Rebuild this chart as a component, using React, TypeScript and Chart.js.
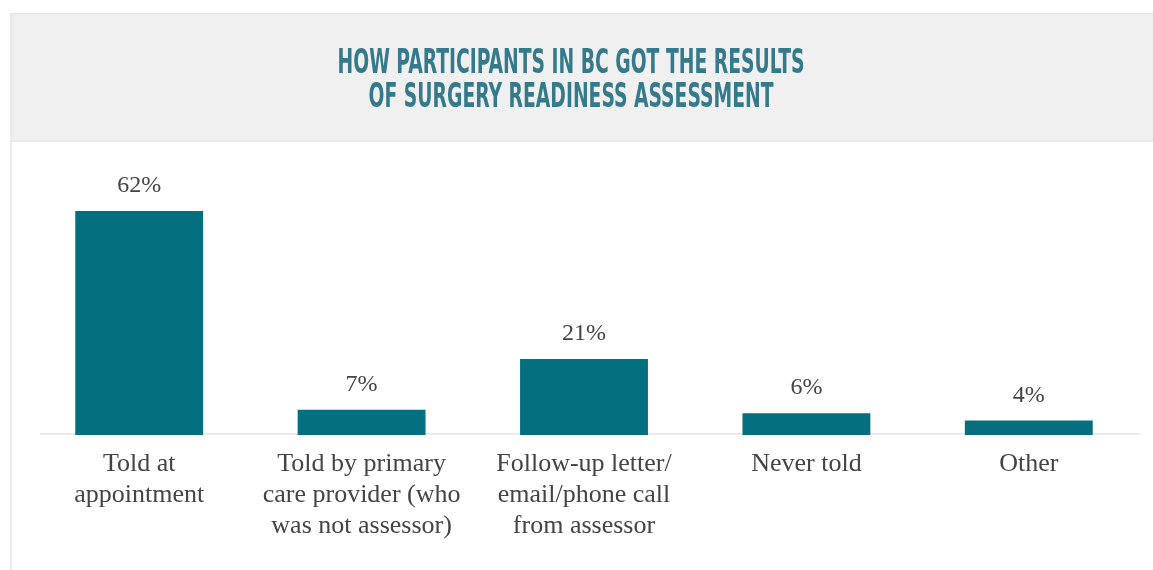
import React, { useEffect, useRef } from 'react';
import { Chart, registerables } from 'chart.js';

Chart.register(...registerables);

const categories: string[][] = [
  ['Told at', 'appointment'],
  ['Told by primary', 'care provider (who', 'was not assessor)'],
  ['Follow-up letter/', 'email/phone call', 'from assessor'],
  ['Never told'],
  ['Other'],
];
const values: number[] = [62, 7, 21, 6, 4];
const valueLabels: string[] = ['62%', '7%', '21%', '6%', '4%'];
const titleLines: string[] = [
  'HOW PARTICIPANTS IN BC GOT THE RESULTS',
  'OF SURGERY READINESS ASSESSMENT',
];

const BAR_COLOR = '#036f7f';
const TEXT_COLOR = '#444444';
const TITLE_COLOR = '#357a8c';
const SERIF = "'Liberation Serif', 'DejaVu Serif', serif";
const CONDENSED = "'Liberation Sans Narrow', 'DejaVu Sans Condensed', Roboto, sans-serif";

const framePlugin = {
  id: 'frame',
  beforeDraw(chart: any) {
    const ctx = chart.ctx as CanvasRenderingContext2D;
    const W = chart.width;
    const H = chart.height;
    ctx.save();
    ctx.fillStyle = '#ffffff';
    ctx.fillRect(0, 0, W, H);
    // header box
    ctx.fillStyle = '#f0f0f0';
    ctx.fillRect(10, 13, W - 10, 129);
    ctx.fillStyle = '#e6e6e6';
    ctx.fillRect(10, 13, W - 10, 1.5);
    ctx.fillStyle = '#e9e9e9';
    ctx.fillRect(10, 140, W - 10, 2);
    ctx.fillRect(10, 13, 2, H - 13);
    // title
    ctx.fillStyle = TITLE_COLOR;
    ctx.font = `bold 33px ${CONDENSED}`;
    ctx.textAlign = 'center';
    ctx.textBaseline = 'alphabetic';
    const w0 = ctx.measureText(titleLines[0]).width;
    const sx = 467 / w0;
    const cx = 571;
    const baselines = [73, 107];
    titleLines.forEach((line, i) => {
      ctx.save();
      ctx.translate(cx, baselines[i]);
      ctx.scale(sx, 1);
      ctx.fillText(line, 0, 0);
      ctx.restore();
    });
    ctx.restore();
  },
  beforeDatasetsDraw(chart: any) {
    const ctx = chart.ctx as CanvasRenderingContext2D;
    const area = chart.chartArea;
    ctx.save();
    ctx.fillStyle = '#ebebeb';
    ctx.fillRect(40, area.bottom - 2, area.right - 40, 2);
    ctx.restore();
  },
  afterDatasetsDraw(chart: any) {
    const ctx = chart.ctx as CanvasRenderingContext2D;
    const meta = chart.getDatasetMeta(0);
    ctx.save();
    ctx.fillStyle = TEXT_COLOR;
    ctx.font = `24px ${SERIF}`;
    ctx.textAlign = 'center';
    ctx.textBaseline = 'alphabetic';
    meta.data.forEach((bar: any, i: number) => {
      ctx.fillText(valueLabels[i], bar.x, bar.y - 19);
    });
    ctx.restore();
  },
};

export default function App() {
  const ref = useRef<HTMLCanvasElement | null>(null);

  useEffect(() => {
    if (!ref.current) return;
    const chart = new Chart(ref.current, {
      type: 'bar',
      data: {
        labels: categories,
        datasets: [
          {
            data: values,
            backgroundColor: BAR_COLOR,
            borderWidth: 0,
            barPercentage: 0.575,
            categoryPercentage: 1,
          },
        ],
      },
      options: {
        responsive: false,
        animation: false,
        layout: { padding: { left: 28, right: 13, top: 182, bottom: 0 } },
        plugins: {
          legend: { display: false },
          tooltip: { enabled: false },
          title: { display: false },
        },
        scales: {
          x: {
            grid: { display: false, drawTicks: false },
            border: { display: false },
            ticks: {
              color: TEXT_COLOR,
              font: { family: SERIF, size: 26, lineHeight: 1.21 },
              padding: 13,
              maxRotation: 0,
              autoSkip: false,
            },
            afterFit: (scale: any) => {
              scale.height = 135;
            },
          },
          y: { display: false, min: 0, max: 70 },
        },
      },
      plugins: [framePlugin],
    });
    return () => chart.destroy();
  }, []);

  return (
    <div style={{ position: 'absolute', left: 0, top: 0, width: 1153, height: 570, overflow: 'hidden' }}>
      <canvas ref={ref} width={1153} height={570} style={{ display: 'block' }} />
    </div>
  );
}
